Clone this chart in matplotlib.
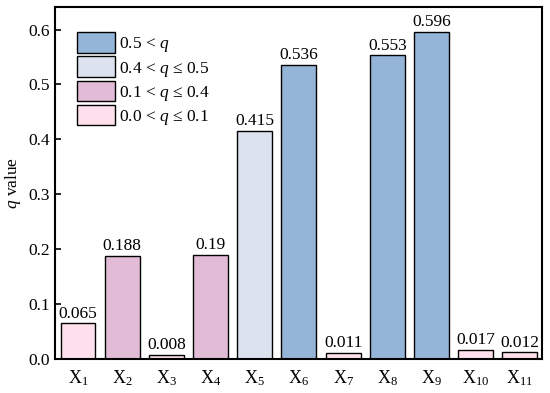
import matplotlib
matplotlib.use("Agg")
import matplotlib.pyplot as plt
from matplotlib.patches import Patch

plt.rcParams['font.family'] = ['Liberation Serif', 'DejaVu Serif']
plt.rcParams['mathtext.fontset'] = 'custom'
plt.rcParams['mathtext.rm'] = 'Liberation Serif'
plt.rcParams['mathtext.it'] = 'Liberation Serif:italic'

categories = ['X$_{1}$', 'X$_{2}$', 'X$_{3}$', 'X$_{4}$', 'X$_{5}$', 'X$_{6}$',
              'X$_{7}$', 'X$_{8}$', 'X$_{9}$', 'X$_{10}$', 'X$_{11}$']
values = [0.065, 0.188, 0.008, 0.19, 0.415, 0.536, 0.011, 0.553, 0.596, 0.017, 0.012]
value_labels = ['0.065', '0.188', '0.008', '0.19', '0.415', '0.536', '0.011', '0.553', '0.596', '0.017', '0.012']
legend_labels = ['0.5 < $q$', '0.4 < $q$ ≤ 0.5', '0.1 < $q$ ≤ 0.4', '0.0 < $q$ ≤ 0.1']
colors = ['#94b4d8', '#dce3ef', '#e2bcd6', '#fde0ec']

def color_for(v):
    if v > 0.5:
        return colors[0]
    if v > 0.4:
        return colors[1]
    if v > 0.1:
        return colors[2]
    return colors[3]

fig = plt.figure(figsize=(5.5, 3.93), dpi=100)
ax = fig.add_axes([55/550, 34/393, 487/550, 352/393])
x = list(range(1, len(values) + 1))
ax.bar(x, values, width=0.79, color=[color_for(v) for v in values],
       edgecolor='black', linewidth=1.0)
for xi, v, lab in zip(x, values, value_labels):
    ax.text(xi, v + 0.003, lab, ha='center', va='bottom', fontsize=12.5)

ax.set_xlim(0.48, 11.5)
ax.set_ylim(0, 0.641)
ax.set_xticks(x)
ax.set_xticklabels(categories, fontsize=13)
ax.set_yticks([0.0, 0.1, 0.2, 0.3, 0.4, 0.5, 0.6])
ax.set_yticklabels(['0.0', '0.1', '0.2', '0.3', '0.4', '0.5', '0.6'], fontsize=12.5)
ax.tick_params(axis='y', direction='in', length=4, width=1.2)
ax.tick_params(axis='x', length=0, pad=7)
ax.set_ylabel('$q$ value', fontsize=12.5, labelpad=4)
for s in ax.spines.values():
    s.set_linewidth(1.5)

handles = [Patch(facecolor=c, edgecolor='black', linewidth=1.0) for c in colors]
ax.legend(handles, legend_labels, loc='upper left', bbox_to_anchor=(0.045, 0.928),
          frameon=False, fontsize=12.5, handlelength=2.2, handleheight=1.45,
          handletextpad=0.2, labelspacing=0.12, borderaxespad=0, borderpad=0)

fig.savefig('out.png', dpi=100)
